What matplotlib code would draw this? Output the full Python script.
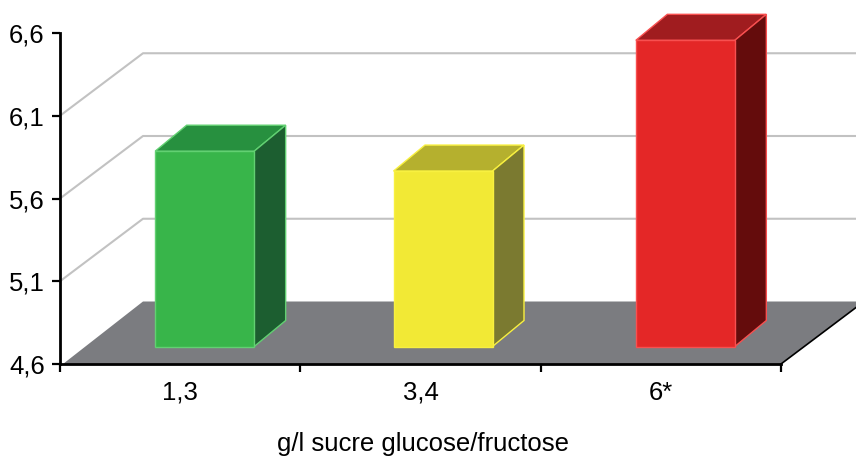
import matplotlib
matplotlib.use('Agg')
import matplotlib.pyplot as plt
from matplotlib.patches import Polygon

plt.rcParams['font.family'] = ['Liberation Sans', 'DejaVu Sans']

# Data
categories = ['1,3', '3,4', '6*']
values = [5.78, 5.66, 6.45]
y_ticks = [4.6, 5.1, 5.6, 6.1, 6.6]
y_labels = ['4,6', '5,1', '5,6', '6,1', '6,6']
grid_values = [5.1, 5.6, 6.1]
front_colors = ['#38B54A', '#F2E935', '#E42727']
top_colors = ['#27903F', '#B5B02E', '#A01C1F']
side_colors = ['#1C5E30', '#7B7A30', '#640C0C']
edge_colors = ['#62D072', '#F8F040', '#F85050']

W, H = 856, 459
left, right, top, bottom = 60, 781, 33, 364

fig = plt.figure(figsize=(W / 100, H / 100), dpi=100)
ax = fig.add_axes([left / W, 1 - bottom / H, (right - left) / W, (bottom - top) / H])
ax.set_xlim(-0.5, 2.5)
ax.set_ylim(4.6, 6.6)

# pixel sizes of the fake 3D depth, in data units
px_x = 3 / (right - left)
px_y = 2 / (bottom - top)
wall_dx, wall_dy = 83 * px_x, 62.5 * px_y
bar_dx, bar_dy = 24.5 * px_x, 17.5 * px_y
side_dx, side_dy = 31.5 * px_x, 26 * px_y
bar_width = 99 * px_x
base = y_ticks[0]
x0, x1 = -0.5, 2.5

# floor
ax.add_patch(Polygon([(x0 + 3 * px_x, base), (x0 + wall_dx, base + wall_dy),
                      (x1 + wall_dx, base + wall_dy), (x1, base)],
                     closed=True, fc='#7B7C80', ec='none', clip_on=False, zorder=1))
ax.plot([x1, x1 + wall_dx], [base, base + wall_dy], color='black', lw=1.2,
        clip_on=False, zorder=2)

# grid lines along side wall and back wall
for v in grid_values:
    ax.plot([x0, x0 + wall_dx, x1 + wall_dx], [v, v + wall_dy, v + wall_dy],
            color='#C2C2C2', lw=1.5, clip_on=False, zorder=1)

# bars (the yellow one sits 2 px left of even spacing in the original)
nudge = [0, -2 * px_x, 0]
for i, v in enumerate(values):
    xc = i + bar_dx + nudge[i]
    xl = xc - bar_width / 2
    xr = xc + bar_width / 2
    y0 = base + bar_dy
    y1 = v + bar_dy
    ax.bar(xc, v - base, bottom=y0, width=bar_width, color=front_colors[i],
           edgecolor=edge_colors[i], linewidth=1, zorder=4)
    ax.add_patch(Polygon([(xl, y1), (xl + side_dx, y1 + side_dy),
                          (xr + side_dx, y1 + side_dy), (xr, y1)],
                         closed=True, fc=top_colors[i], ec=edge_colors[i], lw=1,
                         clip_on=False, zorder=3))
    ax.add_patch(Polygon([(xr, y0), (xr + side_dx, y0 + side_dy),
                          (xr + side_dx, y1 + side_dy), (xr, y1)],
                         closed=True, fc=side_colors[i], ec=edge_colors[i], lw=1,
                         clip_on=False, zorder=3))

for s in ['top', 'right']:
    ax.spines[s].set_visible(False)
for s in ['left', 'bottom']:
    ax.spines[s].set_linewidth(2)
    ax.spines[s].set_zorder(5)

ax.set_yticks(y_ticks)
ax.set_yticklabels(y_labels)
ax.set_xticks([-0.5, 0.5, 1.5, 2.5])
ax.set_xticklabels([])
ax.set_xticks(range(len(categories)), minor=True)
ax.set_xticklabels(categories, minor=True)
ax.tick_params(axis='y', length=6, width=1.6, pad=5, labelsize=18.5)
ax.tick_params(axis='x', which='major', length=6, width=1.6)
ax.tick_params(axis='x', which='minor', length=0, pad=12, labelsize=18.5)
ax.set_xlabel('g/l sucre glucose/fructose', fontsize=18.5, labelpad=20,
              x=(423 - left) / (right - left))

fig.savefig('out.png', dpi=100)
